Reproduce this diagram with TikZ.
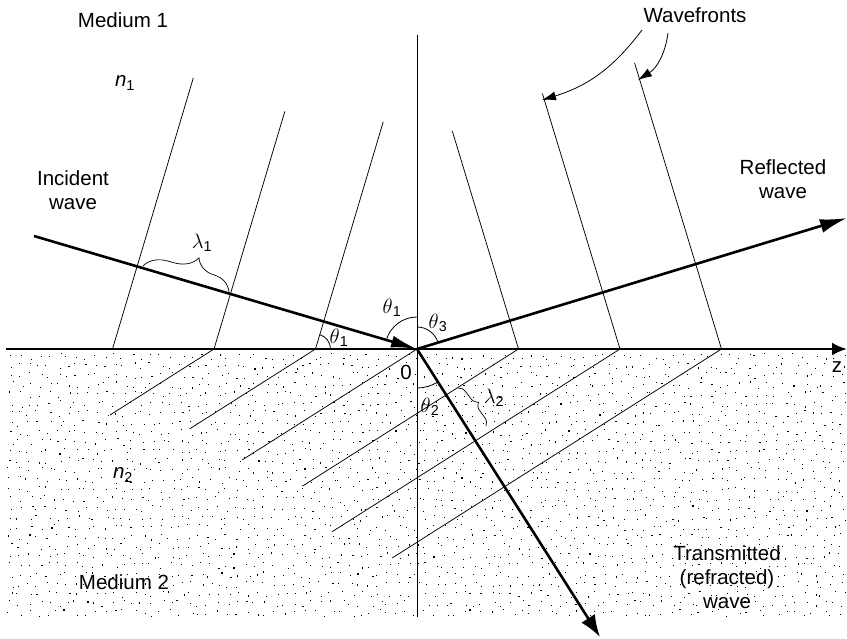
\documentclass[tikz,border=0pt]{standalone}
\usepackage{fontspec}
\setmainfont{Liberation Sans}
\usetikzlibrary{arrows.meta,decorations.pathreplacing,calc}
\begin{document}
\begin{tikzpicture}[x=1pt,y=1pt,
  thinl/.style={line width=0.8pt},
  wf/.style={line width=0.75pt},
  ray/.style={line width=2.6pt},
  lbl/.style={font=\fontsize{20.5}{24}\selectfont, inner sep=0pt, align=center},
  brc/.style={line width=0.7pt, decorate}]
\useasboundingbox (0,0) rectangle (847,-638);
% stipple of medium 2
\pgfmathsetseed{7}
\foreach \i in {0,...,88}{
  \foreach \j in {0,...,27}{
    \pgfmathsetmacro{\dx}{10+\i*9.45+3.8*rand}
    \pgfmathsetmacro{\dy}{-357-\j*9.5+3.2*rand}
    \fill (\dx,\dy) rectangle ++(1.1,1.1);
  }
}
% key points
\coordinate (O) at (417,-349);
\coordinate (zL) at (6,-349);
\coordinate (zR) at (847,-349);
\coordinate (vT) at (417,-35);
\coordinate (vB) at (417,-617);
\coordinate (inc) at (34,-236);
\coordinate (refl) at (847,-218);
\coordinate (trans) at (600,-637);
\coordinate (w1) at ($(O)+(-101.5,0)$);
% incident wavefronts
\foreach \k/\L in {1/237,2/248,3/283}
  \draw[wf] ($(O)+(-101.5*\k,0)$) -- ++(73.4:\L);
% reflected wavefronts
\foreach \k/\L in {1/228,2/267,3/299}
  \draw[wf] ($(O)+(101.5*\k,0)$) -- ++(106.9:\L);
% transmitted wavefronts
\foreach \k/\L in {-2/123,-1/149,0/207,1/256,2/341,3/390}
  \draw[wf] ($(O)+(101.5*\k,0)$) -- ++(212.4:\L);
% normal
\draw[thinl] (vT) -- (vB);
% interface / z axis
\draw[ray, -{Latex[length=15pt,width=13pt]}] (zL) -- (zR);
% rays
\draw[ray, -{Latex[length=26pt,width=12pt]}] (inc) -- (O);
\draw[ray, -{Latex[length=27pt,width=14pt]}] (O) -- (refl);
\draw[ray, -{Latex[length=22pt,width=16pt]}] (O) -- (trans);
% angle arcs
\draw[thinl] ($(O)+(90:32)$) arc[start angle=90,end angle=163.6,radius=32];
\draw[thinl] ($(O)+(16.9:22)$) arc[start angle=16.9,end angle=90,radius=22];
\draw[thinl] ($(O)+(270:39)$) arc[start angle=270,end angle=302.4,radius=39];
\draw[thinl] ($(w1)+(15,0)$) arc[start angle=0,end angle=73.4,radius=15];
% braces
\coordinate (b1a) at (143,-266);
\coordinate (b1b) at (229,-292);
\draw[brc, decoration={brace, amplitude=24pt, aspect=0.57}] (b1a) -- (b1b);
\coordinate (b2a) at (458,-388);
\coordinate (b2b) at (486,-426);
\draw[brc, decoration={brace, amplitude=8pt, aspect=0.5}] (b2a) -- (b2b);
% labels
\node[lbl] (m1) at (123,-20) {Medium 1};
\node[lbl] (n1) at (125,-83) {\textit{n}\textsubscript{1}};
\node[lbl] (iw) at (73,-190) {Incident\\wave};
\node[lbl] (rw) at (783,-179) {Reflected\\wave};
\node[lbl] (tw) at (727,-577) {Transmitted\\(refracted)\\wave};
\node[lbl] (m2) at (124,-582) {Medium 2};
\node[lbl] (n2) at (123,-475) {\textit{n}\textsubscript{2}};
\node[lbl] (zl) at (837,-367) {z};
\node[lbl] (zero) at (406,-372) {0};
\node[lbl] (th1a) at (392,-308) {$\theta$\textsubscript{1}};
\node[lbl] (th3) at (438,-323) {$\theta$\textsubscript{3}};
\node[lbl] (th1b) at (339,-338) {$\theta$\textsubscript{1}};
\node[lbl] (th2) at (430,-407) {$\theta$\textsubscript{2}};
\node[lbl] (lam1) at (202,-243) {$\lambda$\textsubscript{1}};
\node[lbl] (lam2) at (494,-398) {$\lambda$\textsubscript{2}};
\node[lbl] (wfl) at (695,-15) {Wavefronts};
% wavefront pointers
\coordinate (p1s) at (642,-30);
\coordinate (p1e) at (542,-100);
\coordinate (p2s) at (668,-33);
\coordinate (p2e) at (638,-80);
\draw[thinl, -{Latex[length=14pt,width=9pt]}] (p1s) to[bend left=18] (p1e);
\draw[thinl, -{Latex[length=14pt,width=9pt]}] (p2s) to[bend left=25] (p2e);
\end{tikzpicture}
\end{document}
